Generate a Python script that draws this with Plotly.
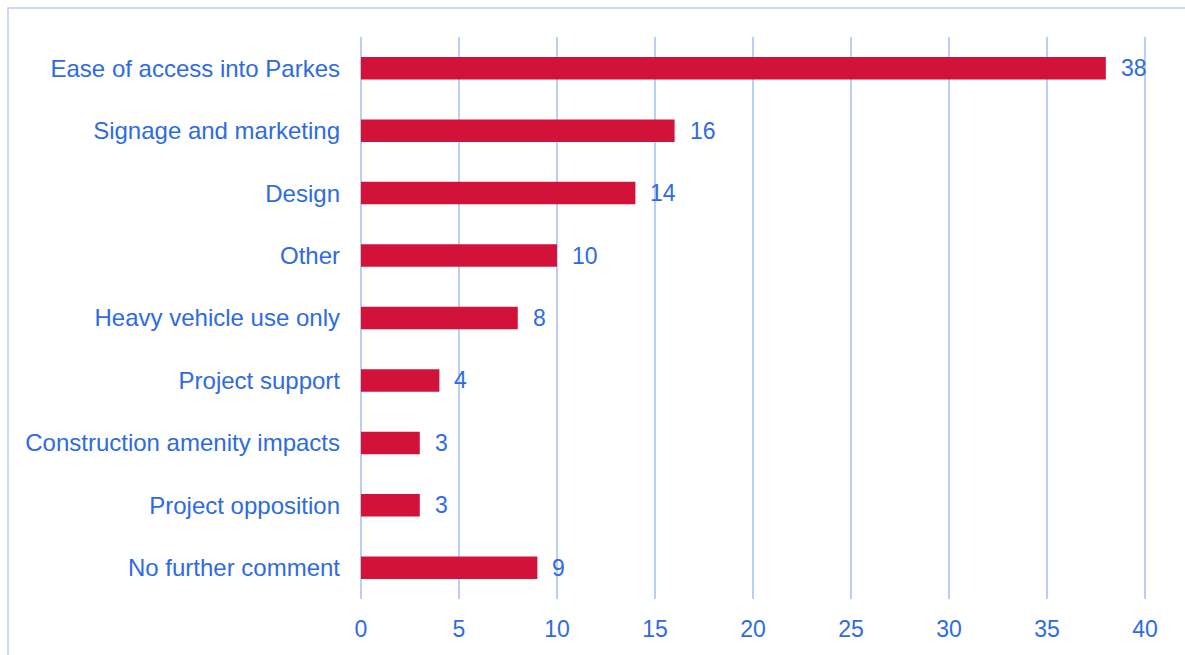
import plotly.graph_objects as go

# Survey comment themes and number of responses
categories = [
    "Ease of access into Parkes",
    "Signage and marketing",
    "Design",
    "Other",
    "Heavy vehicle use only",
    "Project support",
    "Construction amenity impacts",
    "Project opposition",
    "No further comment",
]
counts = [38, 16, 14, 10, 8, 4, 3, 3, 9]
x_ticks = [0, 5, 10, 15, 20, 25, 30, 35, 40]

BAR_RED = "#D3123A"
TEXT_BLUE = "#2E6BE3"
GRID_BLUE = "#B9D0F4"
FONT = "Liberation Sans, Arial, sans-serif"
FS = 23
FS_CAT = 24

W, H = 1185, 655
X_MIN, X_MAX = -0.1, 40.1
ML, MR, MT, MB = 359, 38, 37, 56
PW, PH = W - ML - MR, H - MT - MB

fig = go.Figure(
    go.Bar(
        x=counts,
        y=categories,
        orientation="h",
        marker=dict(color=BAR_RED, line=dict(width=0)),
        width=0.36,
        hoverinfo="x+y",
    )
)

# value labels placed just past each bar end
for cat, val in zip(categories, counts):
    fig.add_annotation(
        x=val, y=cat, text=str(val), showarrow=False,
        xanchor="left", xshift=13,
        font=dict(size=FS, color=TEXT_BLUE, family=FONT),
    )

# light outer frame around the chart
fig.add_shape(
    type="rect", xref="paper", yref="paper",
    x0=(8 - ML) / PW, x1=1.2,
    y0=-0.3, y1=(H - MB - 8) / PH,
    line=dict(color=GRID_BLUE, width=1.5),
    layer="below",
)

fig.update_layout(
    width=W, height=H,
    margin=dict(l=ML, r=MR, t=MT, b=MB),
    paper_bgcolor="white",
    plot_bgcolor="white",
    showlegend=False,
    font=dict(family=FONT, size=FS, color=TEXT_BLUE),
    xaxis=dict(
        range=[X_MIN, X_MAX],
        tickvals=x_ticks,
        showgrid=True, gridcolor=GRID_BLUE, gridwidth=1.5,
        zeroline=True, zerolinecolor=GRID_BLUE, zerolinewidth=1.5,
        showline=False,
        ticks="",
        tickfont=dict(size=FS, color=TEXT_BLUE),
        ticklabelstandoff=14,
        fixedrange=True,
    ),
    yaxis=dict(
        categoryorder="array",
        categoryarray=categories[::-1],
        showgrid=False,
        zeroline=False,
        showline=False,
        ticks="",
        tickfont=dict(size=FS_CAT, color=TEXT_BLUE),
        ticklabelstandoff=18,
        fixedrange=True,
    ),
)

fig.write_html("out.html")
